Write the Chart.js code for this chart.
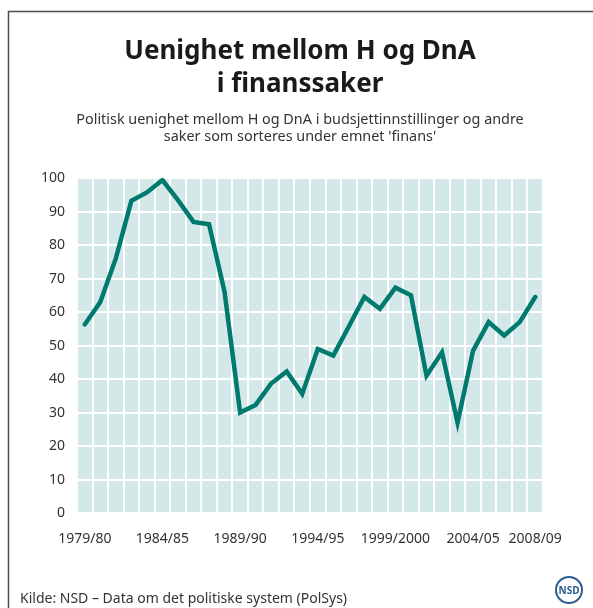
<!DOCTYPE html>
<html>
<head>
<meta charset="utf-8">
<script src="https://cdn.jsdelivr.net/npm/chart.js@4"></script>
<style>
  html, body { margin: 0; padding: 0; background: #fff; }
  #wrap { width: 593px; height: 608px; position: relative; }
</style>
</head>
<body>
<div id="wrap"><canvas id="chartUenighet"></canvas></div>
<script>
/* Uenighet mellom H og DnA i finanssaker */

const periods = [
  '1979/80', '1980/81', '1981/82', '1982/83', '1983/84', '1984/85', '1985/86', '1986/87', '1987/88', '1988/89',
  '1989/90', '1990/91', '1991/92', '1992/93', '1993/94', '1994/95', '1995/96', '1996/97', '1997/98', '1998/99',
  '1999/2000', '2000/01', '2001/02', '2002/03', '2003/04', '2004/05', '2005/06', '2006/07', '2007/08', '2008/09',
];
const uenighet = [
  56.3, 63, 76, 93.2, 95.7, 99.4, 93.4, 86.9, 86.2, 66,
  30, 32.3, 38.7, 42.3, 35.6, 49, 47, 55.7, 64.5, 61,
  67.3, 65, 41, 48, 27, 48.5, 57, 53, 57, 64.5,
];
const shownLabels = ['1979/80', '1984/85', '1989/90', '1994/95', '1999/2000', '2004/05', '2008/09'];
const yTicks = { min: 0, max: 100, step: 10 };

const titleText    = ['Uenighet mellom H og DnA', 'i finanssaker'];
const subtitleText = ['Politisk uenighet mellom H og DnA i budsjettinnstillinger og andre',
                      "saker som sorteres under emnet 'finans'"];
const sourceText   = 'Kilde: NSD – Data om det politiske system (PolSys)';

const FONT = "'Noto Sans', 'Open Sans', sans-serif";

/* bakgrunn i plottet + ramme, titler, kilde og logo */
const decor = {
  id: 'decor',
  beforeDraw(chart) {
    const { ctx, chartArea: a } = chart;
    ctx.save();
    ctx.fillStyle = '#d5e8e9';
    ctx.fillRect(a.left, a.top, a.right - a.left, a.bottom - a.top);
    ctx.restore();
  },
  afterDraw(chart) {
    const { ctx, width, height } = chart;
    const cx = 300;
    ctx.save();
    // ramme
    ctx.strokeStyle = '#4d4d4d';
    ctx.lineWidth = 1.5;
    ctx.beginPath();
    ctx.moveTo(8.5, height);
    ctx.lineTo(8.5, 11.5);
    ctx.lineTo(width, 11.5);
    ctx.stroke();
    // tittel
    ctx.textAlign = 'center';
    ctx.textBaseline = 'alphabetic';
    ctx.fillStyle = '#1a1a1a';
    ctx.font = 'bold 26px ' + FONT;
    ctx.fillText(titleText[0], cx, 59);
    ctx.fillText(titleText[1], cx, 92);
    // undertittel
    ctx.fillStyle = '#333';
    ctx.font = '14.4px ' + FONT;
    ctx.fillText(subtitleText[0], cx, 124);
    ctx.fillText(subtitleText[1], cx, 141);
    // kilde
    ctx.font = '14px ' + FONT;
    ctx.textAlign = 'left';
    ctx.fillText(sourceText, 20, 603);
    // NSD-logo
    ctx.strokeStyle = '#2b5d8e';
    ctx.lineWidth = 2;
    ctx.beginPath();
    ctx.arc(569, 590, 13, 0, Math.PI * 2);
    ctx.stroke();
    ctx.fillStyle = '#2b5d8e';
    ctx.font = 'bold 10px ' + FONT;
    ctx.textAlign = 'center';
    ctx.textBaseline = 'middle';
    ctx.fillText('NSD', 569, 591);
    ctx.restore();
  },
};

new Chart(document.getElementById('chartUenighet'), {
  type: 'line',
  data: {
    labels: periods,
    datasets: [{
      label: 'Uenighet',
      data: uenighet,
      borderColor: '#007a6e',
      borderWidth: 4.5,
      borderJoinStyle: 'miter',
      borderCapStyle: 'round',
      pointRadius: 0,
      tension: 0,
      fill: false,
    }],
  },
  options: {
    responsive: true,
    maintainAspectRatio: false,
    animation: false,
    layout: { padding: { left: 0, right: 50, top: 178, bottom: 44 } },
    plugins: {
      legend: { display: false },
      tooltip: { enabled: false },
      title: { display: false },
    },
    scales: {
      x: {
        offset: true,
        border: { display: false },
        grid: { offset: true, color: '#ffffff', lineWidth: 2, drawTicks: false },
        ticks: {
          autoSkip: false,
          maxRotation: 0,
          padding: 17,
          color: '#333',
          font: { family: FONT, size: 14 },
          callback(v) {
            const lab = this.getLabelForValue(v);
            return shownLabels.includes(lab) ? lab : '';
          },
        },
      },
      y: {
        min: yTicks.min,
        max: yTicks.max,
        border: { display: false },
        grid: { color: '#ffffff', lineWidth: 2, drawTicks: false },
        ticks: {
          stepSize: yTicks.step,
          padding: 12,
          color: '#333',
          font: { family: FONT, size: 14 },
        },
        afterFit(scale) { scale.width = 77; },
      },
    },
  },
  plugins: [decor],
});
</script>
</body>
</html>
